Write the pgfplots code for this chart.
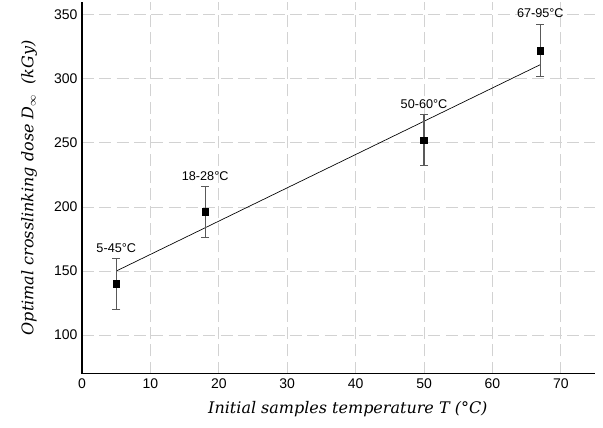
\documentclass[border=0pt]{standalone}
\usepackage{fontspec}
\setmainfont{Liberation Sans}
\newfontfamily\labelfont{DejaVu Serif}
\usepackage{pgfplots}
\pgfplotsset{compat=1.18}

\begin{document}
\begin{tikzpicture}
\begin{axis}[
  scale only axis, width=385pt, height=279pt,
  xmin=0, xmax=75, ymin=70, ymax=360,
  axis x line=bottom, axis y line=left,
  axis line style={-, line width=1.1pt},
  xtick={0,10,...,70}, ytick={100,150,...,350},
  major tick length=0pt,
  tick label style={font=\fontsize{10.5}{12}\selectfont},
  /pgf/number format/assume math mode=true,
  xmajorgrids, ymajorgrids,
  grid style={gray!35, dash pattern=on 9pt off 4pt, line width=0.6pt},
  xlabel={\labelfont\itshape Initial samples temperature T (°C)},
  ylabel={\labelfont\itshape Optimal crosslinking dose D$_{\infty}$\ \ (kGy)},
  label style={font=\fontsize{12}{14}\selectfont},
  xlabel style={yshift=-3pt, xshift=7pt},
  ylabel style={yshift=6pt},
  clip=false,
]
\coordinate (bl) at (rel axis cs:-0.160,-0.145);
\coordinate (tr) at (rel axis cs:1.0156,1.005);
\addplot[black, line width=0.5pt] coordinates {(5,150) (67,311)};
\addplot[only marks, mark=square*, mark size=2.5pt, black,
  error bars/.cd, y dir=both, y explicit,
  error bar style={black!65, line width=0.8pt},
  error mark options={rotate=90, black!65, mark size=3pt, line width=0.8pt}]
  coordinates {
    (5,140) +- (0,20)
    (18,196) +- (0,20)
    (50,252) +- (0,20)
    (67,322) +- (0,20)
  };
\node[above, font=\fontsize{9.5}{11}\selectfont, inner sep=3pt] at (axis cs:5,161) {5-45°C};
\node[above, font=\fontsize{9.5}{11}\selectfont, inner sep=3pt] at (axis cs:18,217) {18-28°C};
\node[above, font=\fontsize{9.5}{11}\selectfont, inner sep=3pt] at (axis cs:50,273) {50-60°C};
\node[above, font=\fontsize{9.5}{11}\selectfont, inner sep=3pt] at (axis cs:67,344) {67-95°C};
\end{axis}
\pgfresetboundingbox
\path[use as bounding box] (bl) rectangle (tr);
\end{tikzpicture}
\end{document}
